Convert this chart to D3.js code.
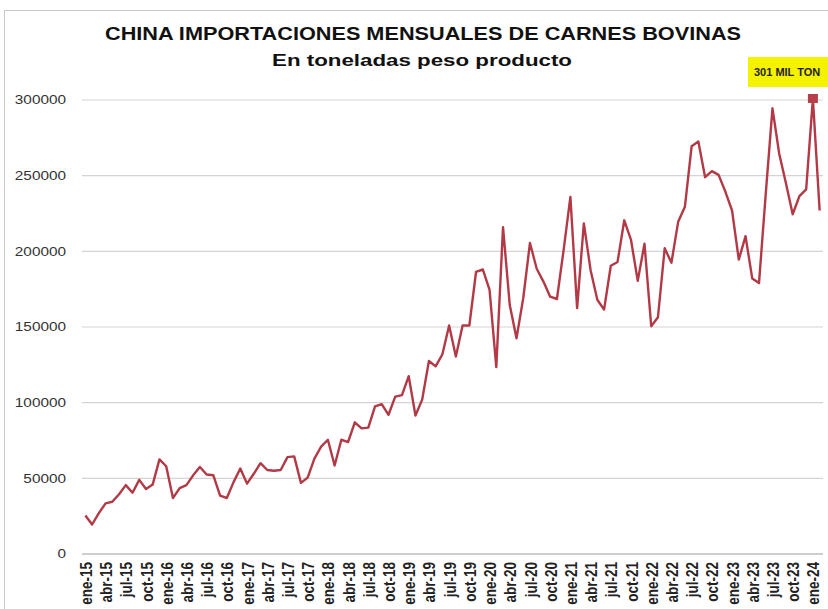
<!DOCTYPE html>
<html>
<head>
<meta charset="utf-8">
<script src="https://cdn.jsdelivr.net/npm/d3@7"></script>
<style>
  body { margin: 0; background: #fff; }
  svg { display: block; font-family: "Liberation Sans", Arial, sans-serif; }
</style>
</head>
<body>
<div id="graph"></div>
<script>
// meses y años de la serie (ene-15 a feb-24)
const meses = ["ene","feb","mar","abr","may","jun","jul","ago","sep","oct","nov","dic"];
const anios = ["15","16","17","18","19","20","21","22","23","24"];

// importaciones mensuales, toneladas peso producto
const toneladas = [
  25500, 19500, 27000, 33500, 34500, 39500, 45500, 40500, 49000, 43000, 46000, 62500,
  58000, 37000, 43500, 45500, 52000, 57500, 52500, 52000, 38500, 37000, 47500, 56500,
  46500, 53000, 60000, 55500, 55000, 55500, 64000, 64500, 47000, 50500, 63000, 71000,
  75500, 58500, 75500, 74000, 87000, 83000, 83500, 97500, 99000, 92000, 104000, 105000,
  117500, 91500, 102000, 127500, 124000, 132000, 151000, 130500, 151000, 151000, 186500, 188000,
  174500, 123500, 216000, 164500, 142500, 169000, 205500, 188500, 180000, 170000, 168500, 201000,
  236000, 162500, 218500, 187500, 168000, 161500, 190500, 193000, 220500, 207500, 180500, 205000,
  150500, 156500, 202000, 192500, 219500, 229500, 269500, 272500, 249000, 253000, 250500, 239500,
  227000, 194500, 210000, 182000, 179000, 238000, 294500, 264500, 245000, 224500, 236500, 241000,
  301000, 227000
];

const yTicks = [0, 50000, 100000, 150000, 200000, 250000, 300000];
const destacado = "301 MIL TON";

const categorias = [];
anios.forEach(a => meses.forEach(m => categorias.push(m + "-" + a)));
categorias.length = toneladas.length;

const data = categorias.map((c, i) => ({ mes: c, valor: toneladas[i] }));
const maxIdx = d3.maxIndex(toneladas);

const width = 828, height = 609;
const stretch = 1.28;   // the original picture is widened
const margin = { top: 100, right: 5, bottom: 55, left: 82 };

const svg = d3.select("#graph").append("svg")
  .attr("width", width).attr("height", height);

// outer frame
svg.append("rect")
  .attr("x", 4.5).attr("y", 10.5)
  .attr("width", width + 10).attr("height", height + 10)
  .attr("fill", "none").attr("stroke", "#c8c8c8");

const x = d3.scalePoint()
  .domain(categorias)
  .range([margin.left, width - margin.right])
  .padding(0.5);

const y = d3.scaleLinear()
  .domain([0, 300000])
  .range([height - margin.bottom, margin.top]);

// grid
svg.append("g")
  .selectAll("line")
  .data(yTicks)
  .join("line")
    .attr("x1", margin.left).attr("x2", width - margin.right)
    .attr("y1", d => y(d)).attr("y2", d => y(d))
    .attr("stroke", d => d === 0 ? "#bdbdbd" : "#d4d4d4")
    .attr("stroke-width", d => d === 0 ? 1.6 : 1.2);

// y axis
svg.append("g")
  .attr("transform", `translate(${margin.left},0)`)
  .call(d3.axisLeft(y).tickValues(yTicks).tickSize(0).tickFormat(d3.format("d")))
  .call(g => g.select(".domain").remove())
  .call(g => g.selectAll("text")
    .attr("x", -16 / stretch)
    .attr("transform", `scale(${stretch},1)`)
    .attr("font-size", 12)
    .attr("fill", "#333"));

// x axis
svg.append("g")
  .attr("transform", `translate(0,${y(0)})`)
  .call(d3.axisBottom(x)
    .tickValues(categorias.filter(c => ["ene","abr","jul","oct"].includes(c.split("-")[0])))
    .tickSize(0))
  .call(g => g.select(".domain").remove())
  .call(g => g.selectAll("text")
    .attr("text-anchor", "end")
    .attr("dy", "0.35em")
    .attr("x", 0).attr("y", 0)
    .attr("transform", `translate(0,8) rotate(-90) scale(1,${stretch})`)
    .attr("font-size", 13.5)
    .attr("font-weight", "bold")
    .attr("fill", "#222"));

// line
const line = d3.line()
  .x(d => x(d.mes))
  .y(d => y(d.valor));

svg.append("path")
  .datum(data)
  .attr("fill", "none")
  .attr("stroke", "#b23a46")
  .attr("stroke-width", 2.4)
  .attr("stroke-linejoin", "round")
  .attr("d", line);

// peak marker
const pico = data[maxIdx];
svg.append("rect")
  .attr("x", x(pico.mes) - 5).attr("y", y(pico.valor) - 4.5)
  .attr("width", 10).attr("height", 9)
  .attr("fill", "#b5404a");

// label box
svg.append("rect")
  .attr("x", 748).attr("y", 57)
  .attr("width", 90).attr("height", 30)
  .attr("fill", "#f5f200");
svg.append("text")
  .attr("transform", "translate(754,75.5) scale(1.1,1)")
  .attr("font-size", 10).attr("font-weight", "bold")
  .attr("fill", "#222")
  .text(destacado);

// titles
svg.append("text")
  .attr("x", 423).attr("y", 40)
  .attr("text-anchor", "middle")
  .attr("font-size", 17.5).attr("font-weight", "bold")
  .attr("textLength", 636).attr("lengthAdjust", "spacingAndGlyphs")
  .attr("fill", "#111")
  .text("CHINA IMPORTACIONES MENSUALES DE CARNES BOVINAS");

svg.append("text")
  .attr("x", 422).attr("y", 66)
  .attr("text-anchor", "middle")
  .attr("font-size", 17).attr("font-weight", "bold")
  .attr("textLength", 300).attr("lengthAdjust", "spacingAndGlyphs")
  .attr("fill", "#111")
  .text("En toneladas peso producto");
</script>
</body>
</html>
